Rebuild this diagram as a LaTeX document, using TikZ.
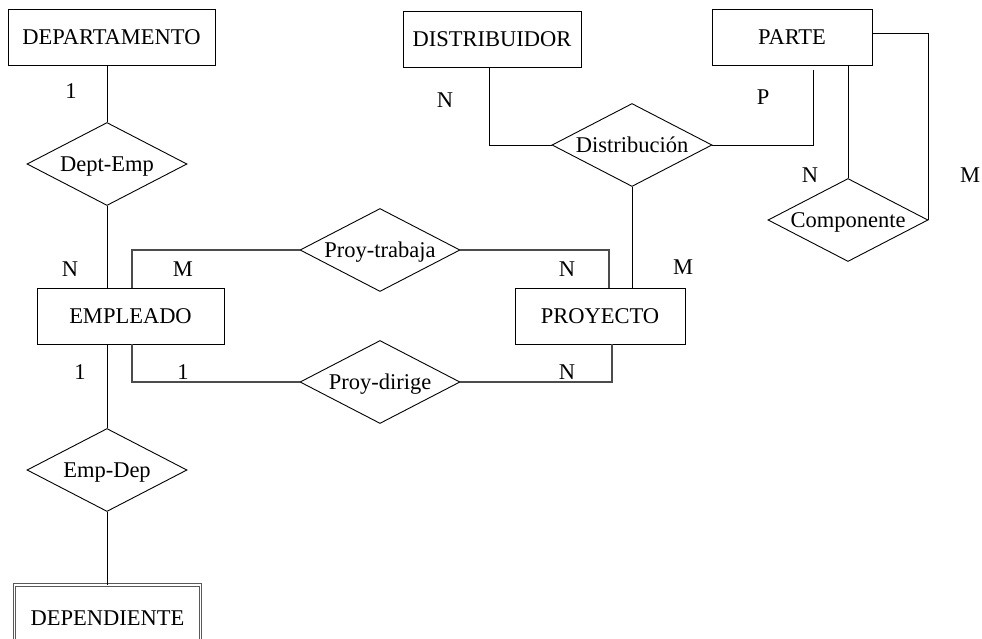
\documentclass[tikz,border=0pt]{standalone}
\usepackage{fontspec}
\setmainfont{Liberation Serif}
\usetikzlibrary{shapes.geometric}
\begin{document}
\begin{tikzpicture}[x=1pt,y=-1pt,
  font=\fontsize{22.5}{27}\selectfont,
  every path/.style={line width=0.9pt},
  entity/.style={draw, rectangle, minimum height=56pt, inner sep=0pt},
  weakentity/.style={draw=gray!70!black, double, double distance=1.6pt, line width=0.9pt, rectangle, minimum width=186pt, minimum height=66pt, inner sep=0pt, text depth=0pt},
  rel/.style={draw, diamond, aspect=1.93, minimum width=160pt, minimum height=83pt, inner sep=0pt, text depth=0pt},
  conn/.style={draw, line width=0.9pt},
  grayconn/.style={draw=gray!60!black, line width=1.3pt},
  card/.style={inner sep=0pt}
]
\useasboundingbox (0,0) rectangle (982,638);
% entities
\node[entity, minimum width=207pt] (dept) at (111.5,37) {DEPARTAMENTO};
\node[entity, minimum width=178pt] (distr) at (492,39) {DISTRIBUIDOR};
\node[entity, minimum width=160pt] (parte) at (792,37) {PARTE};
\node[entity, minimum width=187pt] (emp) at (130.5,316) {EMPLEADO};
\node[entity, minimum width=170pt] (proy) at (600,316) {PROYECTO};
\node[weakentity] (dep) at (107.5,618) {DEPENDIENTE};
% relationships
\node[rel] (deptemp) at (107,164) {Dept-Emp};
\node[rel] (empdep) at (107,470) {Emp-Dep};
\node[rel] (pt) at (380,250) {Proy-trabaja};
\node[rel] (pd) at (380,382) {Proy-dirige};
\node[rel] (dist) at (632,145) {Distribución};
\node[rel] (comp) at (848,220) {Componente};
% connectors
\draw[conn] (deptemp.north |- dept.south) -- (deptemp.north);
\draw[conn] (deptemp.south) -- (deptemp.south |- emp.north);
\draw[conn] (empdep.north |- emp.south) -- (empdep.north);
\draw[conn] (empdep.south) -- (empdep.south |- dep.north);
\draw[grayconn] ([xshift=1.5pt]emp.north) |- (pt.west);
\draw[grayconn] (pt.east) -| ([xshift=9pt]proy.north);
\draw[grayconn] ([xshift=1.5pt]emp.south) |- (pd.west);
\draw[grayconn] (pd.east) -| ([xshift=12pt]proy.south);
\draw[conn] (dist.south) -- (dist.south |- proy.north);
\draw[conn] ([xshift=-3pt]distr.south) |- (dist.west);
\coordinate (pend) at ([shift={(21pt,-5pt)}]parte.south);
\draw[conn] (dist.east) -| (pend);
\draw[conn] (comp.north |- parte.south) -- (comp.north);
\draw[conn] (comp.east) |- ([yshift=4pt]parte.east);
% cardinalities
\node[card] (c1) at (71,91) {1};
\node[card] (c2) at (70,269) {N};
\node[card] (c3) at (183,269) {M};
\node[card] (c4) at (80,372) {1};
\node[card] (c5) at (183,372) {1};
\node[card] (c6) at (567,269) {N};
\node[card] (c7) at (683,267) {M};
\node[card] (c8) at (567,372) {N};
\node[card] (c9) at (445,100) {N};
\node[card] (c10) at (763,97) {P};
\node[card] (c11) at (810,175) {N};
\node[card] (c12) at (970,175) {M};
\end{tikzpicture}
\end{document}
